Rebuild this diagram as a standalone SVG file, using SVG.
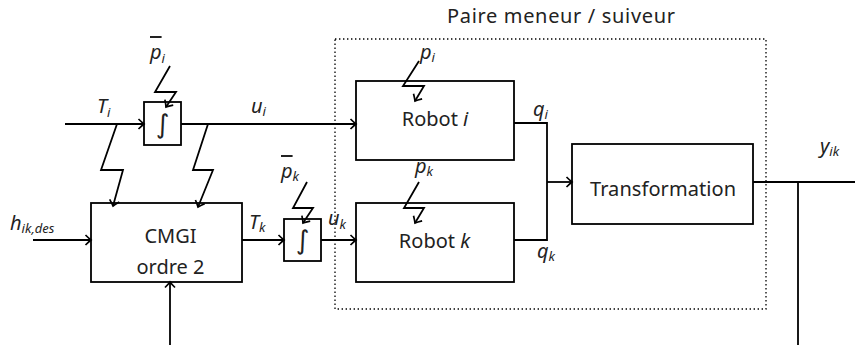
<svg xmlns="http://www.w3.org/2000/svg" width="855" height="345" viewBox="0 0 855 345" font-family="'Noto Sans', 'DejaVu Sans', sans-serif">
<style>
.box{fill:#fff;stroke:#000;stroke-width:1.8}
.ln{fill:none;stroke:#000;stroke-width:1.8;stroke-linejoin:miter}
.arr{marker-end:url(#ah)}
.dot{fill:none;stroke:#000;stroke-width:1.3;stroke-dasharray:1.4 2.6}
text{font-family:'Noto Sans','DejaVu Sans',sans-serif;fill:#222}
.t{font-size:20px}
.int{font-family:'DejaVu Sans',sans-serif;font-size:26px}
.m{font-size:20px;font-style:italic}
.s{font-size:13px;font-style:italic}
.ov{text-decoration:overline}
</style>
<defs>
<marker id="ah" markerUnits="userSpaceOnUse" markerWidth="14" markerHeight="14" viewBox="-8 -7 10 14" refX="0" refY="0" orient="auto">
<path d="M-5.5,-5 Q-2,-1.5 0,0 Q-2,1.5 -5.5,5" fill="none" stroke="#000" stroke-width="1.7"/>
</marker>
</defs>
<g id="group-box">
<rect class="dot" x="335" y="39" width="431" height="270"/>
<text class="t" x="561" y="23" text-anchor="middle" textLength="228" lengthAdjust="spacing">Paire meneur / suiveur</text>
</g>
<g id="int-i">
<rect class="box" x="144" y="102" width="37" height="43"/>
<text class="int" x="162.5" y="133" text-anchor="middle">∫</text>
</g>
<g id="int-k">
<rect class="box" x="284" y="219" width="37" height="42"/>
<text class="int" x="302.5" y="249" text-anchor="middle">∫</text>
</g>
<g id="cmgi">
<rect class="box" x="91" y="203" width="151" height="79"/>
<text class="t" x="170.5" y="243" text-anchor="middle">CMGI</text>
<text class="t" x="170.5" y="274" text-anchor="middle">ordre 2</text>
</g>
<g id="robot-i">
<rect class="box" x="356" y="81" width="158" height="79"/>
<text class="t" x="435" y="126" text-anchor="middle">Robot <tspan font-style="italic">i</tspan></text>
</g>
<g id="robot-k">
<rect class="box" x="356" y="203" width="158" height="79"/>
<text class="t" x="434.5" y="248" text-anchor="middle">Robot <tspan font-style="italic">k</tspan></text>
</g>
<g id="transformation">
<rect class="box" x="572" y="144" width="181" height="80"/>
<text class="t" x="663" y="196" text-anchor="middle" textLength="146" lengthAdjust="spacing">Transformation</text>
</g>
<g id="connectors">
<line class="ln arr" x1="65" y1="124" x2="144" y2="124"/>
<line class="ln arr" x1="181" y1="124" x2="356" y2="124"/>
<polyline class="ln arr" points="170,66 155,92 176,92 166,107"/>
<polyline class="ln arr" points="117,124 101,170 123,170 113,206"/>
<polyline class="ln arr" points="208,124 193,170 213,170 198,207"/>
<line class="ln arr" x1="33" y1="240" x2="91" y2="240"/>
<line class="ln arr" x1="170" y1="345" x2="170" y2="282"/>
<line class="ln arr" x1="242" y1="240" x2="284" y2="240"/>
<polyline class="ln arr" points="307,182 293,208 313,208 303,223"/>
<line class="ln arr" x1="321" y1="240" x2="356" y2="240"/>
<polyline class="ln arr" points="419,61 403,86 424,86 415,101"/>
<polyline class="ln arr" points="419,182 404,208 424,208 415,223"/>
<polyline class="ln" points="514,123 547,123 547,240 514,240"/>
<line class="ln arr" x1="547" y1="182" x2="572" y2="182"/>
<line class="ln" x1="753" y1="182" x2="855" y2="182"/>
<line class="ln" x1="798" y1="182" x2="798" y2="345"/>
</g>
<g id="labels">
<text x="97" y="113"><tspan class="m">T</tspan><tspan class="s" dy="4">i</tspan></text>
<text x="251" y="113"><tspan class="m">u</tspan><tspan class="s" dy="3">i</tspan></text>
<text x="150" y="59"><tspan class="m ov">p</tspan><tspan class="s" dy="4">i</tspan></text>
<text x="10" y="230"><tspan class="m">h</tspan><tspan class="s" dy="3">ik,des</tspan></text>
<text x="249" y="229"><tspan class="m">T</tspan><tspan class="s" dy="3">k</tspan></text>
<text x="281" y="178"><tspan class="m ov">p</tspan><tspan class="s" dy="3">k</tspan></text>
<text x="328" y="225"><tspan class="m">u</tspan><tspan class="s" dy="4">k</tspan></text>
<text x="420" y="59"><tspan class="m">p</tspan><tspan class="s" dy="3">i</tspan></text>
<text x="415" y="173"><tspan class="m">p</tspan><tspan class="s" dy="3">k</tspan></text>
<text x="533" y="116"><tspan class="m">q</tspan><tspan class="s" dy="3">i</tspan></text>
<text x="537" y="258"><tspan class="m">q</tspan><tspan class="s" dy="3">k</tspan></text>
<text x="820" y="153"><tspan class="m">y</tspan><tspan class="s" dy="3">ik</tspan></text>
</g>
</svg>
